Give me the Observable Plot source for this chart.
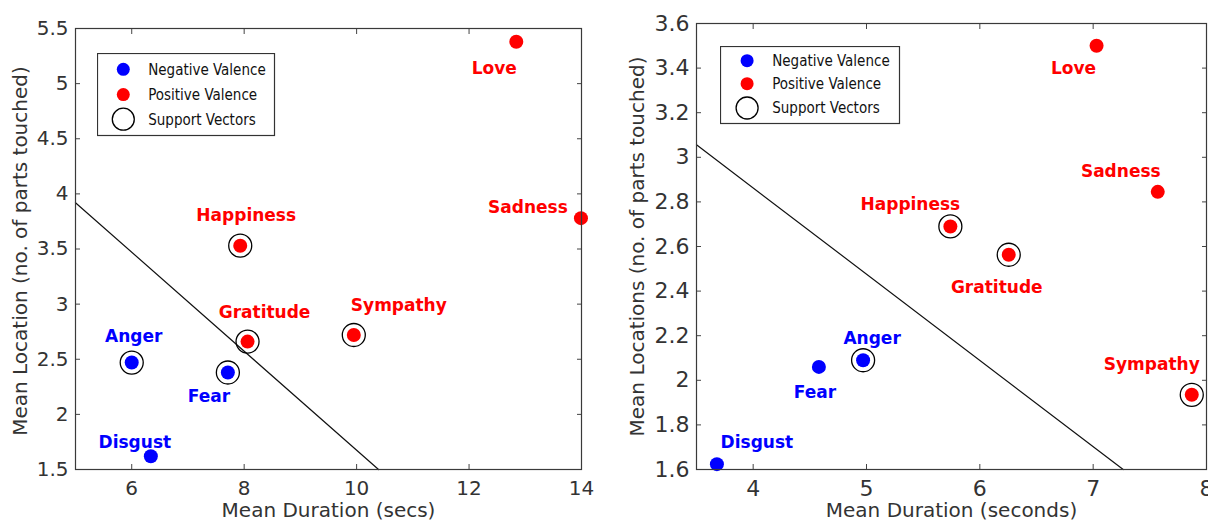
<!DOCTYPE html>
<html><head><meta charset="utf-8">
<script src="https://cdn.jsdelivr.net/npm/d3@7"></script>
<script src="https://cdn.jsdelivr.net/npm/@observablehq/plot@0.6"></script>
<style>
body{margin:0;background:#fff;}
#wrap{position:relative;width:1208px;height:522px;overflow:hidden;background:#fff;}
.panel{position:absolute;top:0;}
.legend{position:absolute;}
.legend text{font-family:"DejaVu Sans Condensed","DejaVu Sans",sans-serif;font-stretch:condensed;font-size:15px;fill:#111;}
</style></head><body><div id="wrap"></div>
<script>
// ---- data ----
const emotions = ["Love","Sadness","Happiness","Gratitude","Sympathy","Anger","Fear","Disgust"];
const valence  = ["Positive","Positive","Positive","Positive","Positive","Negative","Negative","Negative"];
// left panel: Mean Duration (secs) vs Mean Location
const durationA = [12.84, 13.99, 7.93, 8.06, 9.95, 6.00, 7.71, 6.34];
const locationA = [5.38, 3.78, 3.53, 2.66, 2.72, 2.47, 2.38, 1.62];
const supportA  = [false, false, true, true, true, true, true, false];
const boundaryAx = [5, 10.39];
const boundaryAy = [3.92, 1.5];
const xTicksA = [6, 8, 10, 12, 14];
const yTicksA = [1.5, 2, 2.5, 3, 3.5, 4, 4.5, 5, 5.5];
// right panel: Mean Duration (seconds) vs Mean Locations
const durationB = [7.03, 7.57, 5.74, 6.255, 7.87, 4.97, 4.58, 3.68];
const locationB = [3.50, 2.845, 2.69, 2.563, 1.935, 2.09, 2.06, 1.624];
const supportB  = [false, false, true, true, true, true, false, false];
const boundaryBx = [3.5, 7.265];
const boundaryBy = [3.056, 1.6];
const xTicksB = [4, 5, 6, 7, 8];
const yTicksB = [1.6, 1.8, 2, 2.2, 2.4, 2.6, 2.8, 3, 3.2, 3.4, 3.6];
const legendLabels = ["Negative Valence", "Positive Valence", "Support Vectors"];
const valenceColors = ["#0000ff", "#ff0000"];

// ---- layout (pixel offsets of labels from their dots) ----
const labelOffsetA = {Love:[-22,26], Sadness:[-53,-12], Happiness:[6,-31], Gratitude:[17,-30],
  Sympathy:[45,-30], Anger:[2,-27], Fear:[-19,23], Disgust:[-16,-15]};
const labelOffsetB = {Love:[-23,22], Sadness:[-37,-21], Happiness:[-40,-23], Gratitude:[-12,32],
  Sympathy:[-40,-31], Anger:[9,-23], Fear:[-4,25], Disgust:[40,-23]};

const fmt = d => String(d);

function rows(xs, ys, sv) {
  return emotions.map((e, i) => ({name: e, valence: valence[i], x: xs[i], y: ys[i], sv: sv[i]}));
}

function panel(cfg) {
  const data = rows(cfg.xs, cfg.ys, cfg.sv);
  const line = cfg.bx.map((x, i) => ({x, y: cfg.by[i]}));
  const marks = [
    Plot.line(line, {x: "x", y: "y", stroke: "#111", strokeWidth: 1.2}),
    Plot.dot(data.filter(d => d.sv), {x: "x", y: "y", r: 11.5, stroke: "#000", strokeWidth: 1.3, fill: "none"}),
    Plot.dot(data, {x: "x", y: "y", r: 7, fill: "valence"}),
    ...data.map(d => Plot.text([d], {x: "x", y: "y", text: "name", fill: "valence",
      fontWeight: "bold", fontSize: 17, textAnchor: "middle", lineAnchor: "middle",
      dx: cfg.off[d.name][0], dy: cfg.off[d.name][1] + 1})),
    Plot.axisX(cfg.xt, {anchor: "bottom", tickSize: -5, tickPadding: 16, fontSize: cfg.tickFont, tickFormat: fmt, label: null, stroke: "#444"}),
    Plot.axisX(cfg.xt, {anchor: "top", tickSize: -5, tickFormat: () => "", label: null, stroke: "#444"}),
    Plot.axisY(cfg.yt, {anchor: "left", tickSize: -5, tickPadding: 12, fontSize: cfg.tickFont, tickFormat: fmt, label: null, stroke: "#444"}),
    Plot.axisY(cfg.yt, {anchor: "right", tickSize: -5, tickFormat: () => "", label: null, stroke: "#444"}),
    Plot.frame({stroke: "#3a3a3a", strokeWidth: 1.2}),
    Plot.text([cfg.xlabel], {frameAnchor: "bottom", textAnchor: "middle", lineAnchor: "top", dy: 33.5, fontSize: 20, fill: "#333"}),
    Plot.text([cfg.ylabel], {frameAnchor: "left", textAnchor: "middle", rotate: -90, lineAnchor: "middle", dx: cfg.ylabelDx, dy: cfg.ylabelDy, fontSize: 20, fill: "#333"})
  ];
  return Plot.plot({
    width: cfg.width, height: 522,
    marginLeft: cfg.ml, marginRight: cfg.mr, marginTop: cfg.mt, marginBottom: 53,
    x: {domain: cfg.xd}, y: {domain: cfg.yd},
    color: {domain: ["Negative", "Positive"], range: valenceColors},
    style: {fontFamily: "DejaVu Sans, sans-serif", color: "#333", background: "transparent", overflow: "hidden"},
    marks
  });
}

function legend(left, top, w, h, cx, cys, tx) {
  const div = document.createElement("div");
  div.className = "legend";
  div.style.left = left + "px"; div.style.top = top + "px";
  const svg = d3.select(div).append("svg").attr("width", w + 2).attr("height", h + 2);
  svg.append("rect").attr("x", 0.5).attr("y", 0.5).attr("width", w).attr("height", h)
    .attr("fill", "white").attr("stroke", "#333").attr("stroke-width", 1.2);
  legendLabels.forEach((lab, i) => {
    if (i < 2) svg.append("circle").attr("cx", cx).attr("cy", cys[i]).attr("r", 6.5).attr("fill", valenceColors[i]);
    else svg.append("circle").attr("cx", cx).attr("cy", cys[i]).attr("r", 11).attr("fill", "none").attr("stroke", "#000").attr("stroke-width", 1.3);
    svg.append("text").attr("x", tx).attr("y", cys[i]).attr("dy", "0.36em").text(lab);
  });
  return div;
}

const wrap = document.getElementById("wrap");
const left = panel({width: 600, ml: 75, mr: 19, mt: 28, xd: [5, 14], yd: [1.5, 5.5],
  xs: durationA, ys: locationA, sv: supportA, bx: boundaryAx, by: boundaryAy,
  xt: xTicksA, yt: yTicksA, off: labelOffsetA, tickFont: 20,
  xlabel: "Mean Duration (secs)", ylabel: "Mean Location (no. of parts touched)", ylabelDx: -55, ylabelDy: 2});
left.classList.add("panel"); left.style.left = "0px";
wrap.appendChild(left);

const right = panel({width: 608, ml: 96, mr: 2, mt: 23, xd: [3.5, 8], yd: [1.6, 3.6],
  xs: durationB, ys: locationB, sv: supportB, bx: boundaryBx, by: boundaryBy,
  xt: xTicksB, yt: yTicksB, off: labelOffsetB, tickFont: 22,
  xlabel: "Mean Duration (seconds)", ylabel: "Mean Locations (no. of parts touched)", ylabelDx: -59, ylabelDy: 0});
right.classList.add("panel"); right.style.left = "600px";
wrap.appendChild(right);

wrap.appendChild(legend(97, 53, 177, 82, 26.3, [16.3, 41.6, 66.2], 51.2));
wrap.appendChild(legend(719.6, 45.7, 179, 77, 27.1, [14.7, 37.7, 62], 52.2));
</script></body></html>
